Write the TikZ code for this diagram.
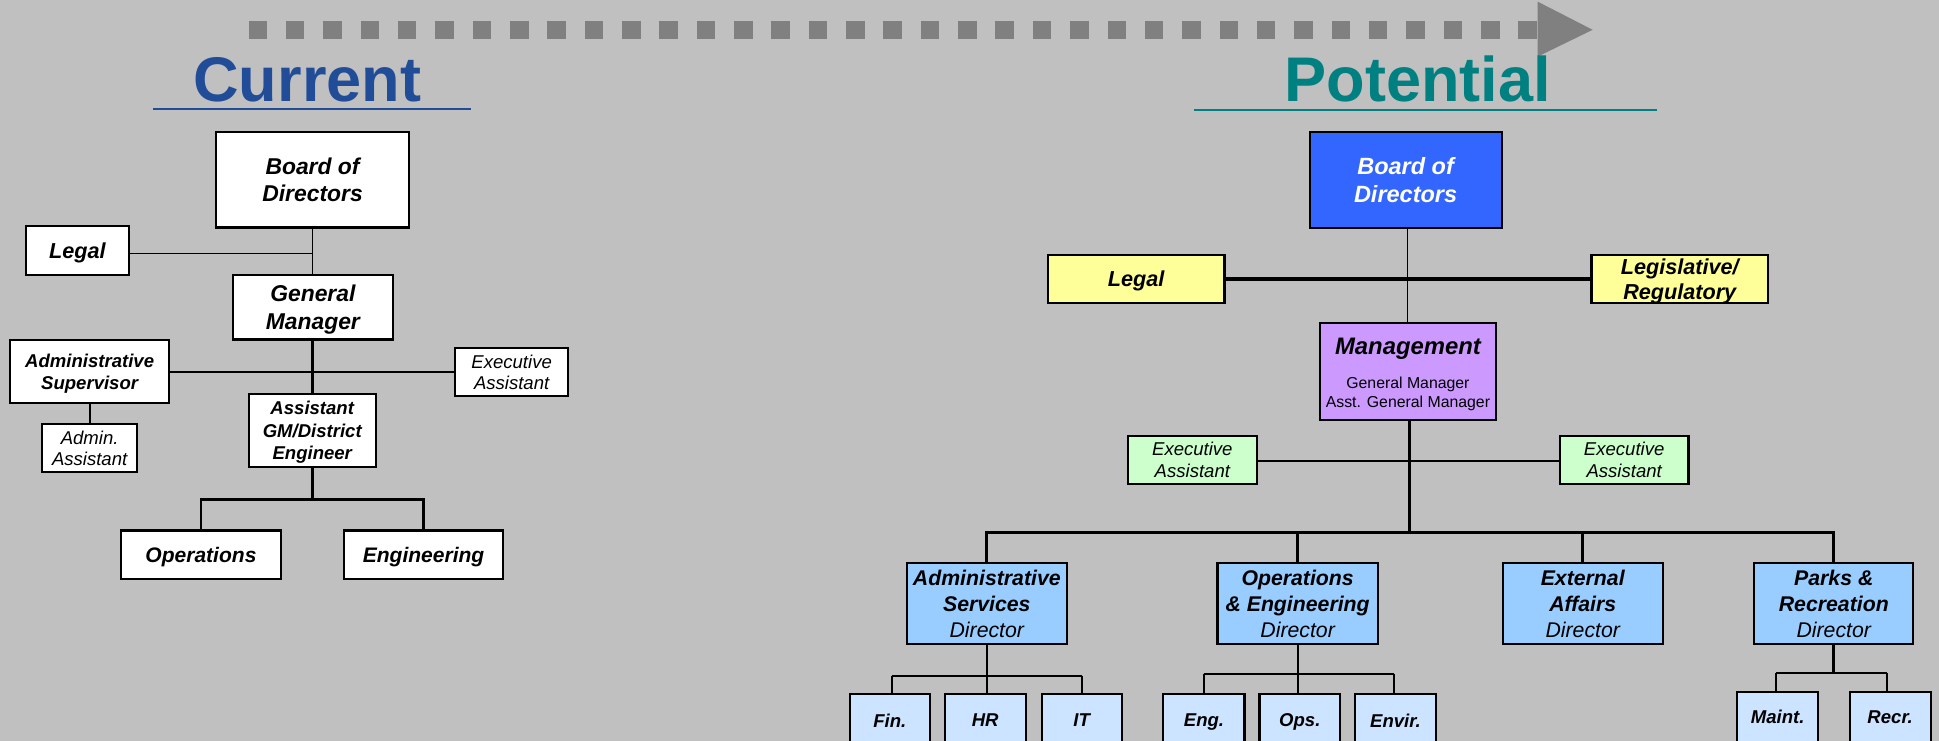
\documentclass[tikz,border=0pt]{standalone}
\usepackage{fontspec}
\setmainfont{Liberation Sans}
\newcommand\myfs[2]{\fontsize{#1}{#2}\selectfont}
\definecolor{bggray}{RGB}{192,192,192}
\definecolor{arrowgray}{RGB}{128,128,128}
\definecolor{curblue}{RGB}{33,76,152}
\definecolor{potteal}{RGB}{0,128,128}
\definecolor{boardblue}{RGB}{51,102,255}
\definecolor{legyellow}{RGB}{255,255,153}
\definecolor{mgmtpurple}{RGB}{204,153,255}
\definecolor{exgreen}{RGB}{204,255,204}
\definecolor{dirblue}{RGB}{153,204,255}
\definecolor{subblue}{RGB}{204,228,255}
\begin{document}
\begin{tikzpicture}[x=1pt,y=-1pt,
  box/.style={draw=black, line width=1.7pt, inner sep=0pt, align=center, fill=white, text depth=0pt},
  bif/.style 2 args={font=\bfseries\itshape\myfs{#1}{#2}},
  itf/.style 2 args={font=\itshape\myfs{#1}{#2}},
  thin/.style={line width=1.1pt},
  mid/.style={line width=1.6pt},
  thick/.style={line width=2.3pt},
  title/.style={anchor=base, inner sep=0pt, font=\bfseries\myfs{51}{60}}
]
\useasboundingbox (0,0) rectangle (1568,599);
\clip (0,0) rectangle (1568,599);
\fill[bggray] (0,0) rectangle (1568,599);

% dotted arrow
\foreach \i in {0,...,34} {
  \fill[arrowgray] ({201+30.2*\i},16.7) rectangle +(15,14.8);
}
\fill[arrowgray] (1243.4,1.3) -- (1287.9,24.1) -- (1243.4,45.8) -- cycle;

% titles
\node[title, text=curblue] (tcur) at (248.5,82) {Current};
\draw[curblue, line width=1.8pt] (124,88) -- (381,88);
\node[title, text=potteal] (tpot) at (1146.5,82) {Potential};
\draw[potteal, line width=1.8pt] (965.5,88.7) -- (1340,88.7);

% ---------- Current ----------
\node[box, bif={18.5}{22.3}, minimum width=155.5pt, minimum height=77.5pt] (cboard) at (252.75,145.25) {Board of\\Directors};
\node[box, bif={17.5}{21}, minimum width=83pt, minimum height=39.5pt] (clegal) at (62.5,202.75) {Legal};
\node[box, bif={18.5}{22.8}, minimum width=129pt, minimum height=52pt] (cgm) at (253,248.5) {General\\Manager};
\node[box, bif={15}{18}, minimum width=129pt, minimum height=51pt] (cadmsup) at (72.5,300.5) {Administrative\\Supervisor};
\node[box, itf={15}{17.5}, minimum width=91.5pt, minimum height=39pt] (cexec) at (413.75,301) {Executive\\Assistant};
\node[box, bif={15}{18.1}, minimum width=103pt, minimum height=59pt] (cagm) at (252.5,348) {Assistant\\GM/District\\Engineer};
\node[box, itf={15}{17.5}, minimum width=77pt, minimum height=39pt] (cadmas) at (72.5,362.5) {Admin.\\Assistant};
\node[box, bif={17}{20}, minimum width=129pt, minimum height=39pt] (cops) at (162.5,448.5) {Operations};
\node[box, bif={17}{20}, minimum width=129pt, minimum height=39pt] (ceng) at (342.5,448.5) {Engineering};

\coordinate (cj1) at (252.5,204.8);
\coordinate (cj2) at (252.5,301);
\coordinate (cbus) at (252.5,403.6);
\draw[thin] (cboard.south -| cj1) -- (cgm.north -| cj1);
\draw[thin] (clegal.east |- cj1) -- (cj1);
\draw[thick] (cgm.south -| cj1) -- (cagm.north -| cj1);
\draw[mid] (cadmsup.east |- cj2) -- (cexec.west |- cj2);
\draw[mid] (cadmsup.south) -- (cadmas.north);
\draw[thick] (cagm.south) -- (cbus);
\draw[thick] (cops.north) |- (cbus) -| (ceng.north);

% ---------- Potential ----------
\node[box, bif={19}{22.5}, fill=boardblue, text=white, minimum width=155.3pt, minimum height=78pt] (pboard) at (1136.65,145.55) {Board of\\Directors};
\node[box, bif={17.5}{21}, fill=legyellow, minimum width=142.8pt, minimum height=38.8pt] (plegal) at (918.8,225.6) {Legal};
\node[box, bif={17.5}{20.5}, fill=legyellow, minimum width=142.7pt, minimum height=38.8pt] (plegis) at (1358.35,225.6) {Legislative/\\Regulatory};
\node[box, fill=mgmtpurple, minimum width=141.9pt, minimum height=78pt] (pmgmt) at (1138.55,300.45) {};
\node[anchor=base, inner sep=0pt, bif={19.3}{23}] (pmgt1) at (1138.55,287) {Management};
\node[anchor=base, inner sep=0pt, font=\myfs{12.8}{15}] (pmgt2) at (1138.55,314.5) {General Manager};
\node[anchor=base, inner sep=0pt, font=\myfs{12.8}{15}] (pmgt3) at (1138.55,329.8) {Asst. General Manager};
\node[box, itf={15}{17.5}, fill=exgreen, minimum width=104.6pt, minimum height=38.8pt] (pexl) at (964.2,372) {Executive\\Assistant};
\node[box, itf={15}{17.5}, fill=exgreen, minimum width=104pt, minimum height=38.8pt] (pexr) at (1313.4,372) {Executive\\Assistant};

\coordinate (pbv) at (1138.3,200);
\draw[thin] (pboard.south -| pbv) -- (pmgmt.north -| pbv);
\draw[line width=2.8pt] (plegal.east) -- (plegis.west);

\coordinate (pex) at (1140,372.6);
\coordinate (pbus) at (1140,430.3);
\draw[thick] (pmgmt.south -| pbus) -- (pbus);
\draw[mid] (pexl.east |- pex) -- (pexr.west |- pex);

\node[box, bif={17.2}{20.8}, fill=dirblue, minimum width=129.1pt, minimum height=65.3pt] (pads) at (798,488.15) {Administrative\\Services\\{\mdseries Director}};
\node[box, bif={17.2}{20.8}, fill=dirblue, minimum width=129.7pt, minimum height=65.3pt] (popse) at (1049.35,488.15) {Operations\\\& Engineering\\{\mdseries Director}};
\node[box, bif={17.2}{20.8}, fill=dirblue, minimum width=129.2pt, minimum height=65.3pt] (pext) at (1279.9,488.15) {External\\Affairs\\{\mdseries Director}};
\node[box, bif={17.2}{20.8}, fill=dirblue, minimum width=128.6pt, minimum height=65.3pt] (ppark) at (1482.9,488.15) {Parks \&\\Recreation\\{\mdseries Director}};

\draw[thick] (pads.north) |- (pbus) -| (ppark.north);
\draw[thick] (popse.north) -- (popse.north |- pbus);
\draw[thick] (pext.north) -- (pext.north |- pbus);

% sub units
\node[box, bif={15}{18}, fill=subblue, minimum width=64.6pt, minimum height=43pt] (pfin) at (719.5,582.5) {Fin.};
\node[box, bif={15}{18}, fill=subblue, minimum width=65.6pt, minimum height=43pt] (phr) at (796.7,582.5) {HR};
\node[box, bif={15}{18}, fill=subblue, minimum width=64.9pt, minimum height=43pt] (pit) at (874.75,582.5) {IT};
\node[box, bif={15}{18}, fill=subblue, minimum width=65.6pt, minimum height=43pt] (peng) at (973.6,582.5) {Eng.};
\node[box, bif={15}{18}, fill=subblue, minimum width=65.2pt, minimum height=43pt] (pops) at (1051.1,582.5) {Ops.};
\node[box, bif={15}{18}, fill=subblue, minimum width=65.1pt, minimum height=43pt] (penv) at (1128.45,582.5) {Envir.};
\node[box, bif={15}{18}, fill=subblue, minimum width=65.5pt, minimum height=41pt] (pmnt) at (1437.6,579.8) {Maint.};
\node[box, bif={15}{18}, fill=subblue, minimum width=65.5pt, minimum height=41pt] (prec) at (1528.5,579.8) {Recr.};

\coordinate (sb1l) at (721.1,546.4);
\coordinate (sb1r) at (874.6,546.4);
\draw[mid] (pads.south) -- (phr.north -| pads.south);
\draw[mid] (sb1l) -- (sb1r);
\draw[mid] (sb1l) -- (pfin.north -| sb1l);
\draw[mid] (sb1r) -- (pit.north -| sb1r);

\coordinate (sb2l) at (973.7,545);
\coordinate (sb2r) at (1127,545);
\draw[mid] (popse.south) -- (pops.north -| popse.south);
\draw[mid] (sb2l) -- (sb2r);
\draw[mid] (sb2l) -- (peng.north -| sb2l);
\draw[mid] (sb2r) -- (penv.north -| sb2r);

\coordinate (sb3l) at (1436.4,543.9);
\coordinate (sb3r) at (1525.7,543.9);
\draw[thick] (ppark.south) -- (ppark.south |- sb3l);
\draw[mid] (sb3l) -- (sb3r);
\draw[mid] (sb3l) -- (pmnt.north -| sb3l);
\draw[mid] (sb3r) -- (prec.north -| sb3r);
\end{tikzpicture}
\end{document}
